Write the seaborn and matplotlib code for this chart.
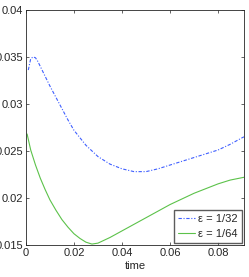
import matplotlib
matplotlib.use("Agg")
import matplotlib.pyplot as plt
from matplotlib.lines import Line2D
import seaborn as sns
import pandas as pd

# valores
t_32 = [0.001, 0.002, 0.003, 0.004, 0.005, 0.0075, 0.01, 0.0125, 0.015, 0.0175, 0.02, 0.025,
        0.03, 0.035, 0.04, 0.045, 0.05, 0.055, 0.06, 0.065, 0.07, 0.075, 0.08, 0.085, 0.09,
        0.0908]
eps_32 = [0.0336, 0.0348, 0.0350, 0.0349, 0.0345, 0.0332, 0.0319, 0.0307, 0.0295, 0.0283,
          0.0272, 0.0256, 0.0244, 0.0236, 0.0231, 0.0228, 0.0228, 0.0231, 0.0235, 0.0239,
          0.0243, 0.0247, 0.0251, 0.0257, 0.0264, 0.0265]
t_64 = [0.0005, 0.002, 0.004, 0.006, 0.008, 0.01, 0.0125, 0.015, 0.0175, 0.02, 0.0225,
        0.025, 0.0275, 0.03, 0.0325, 0.035, 0.04, 0.045, 0.05, 0.055, 0.06, 0.065, 0.07,
        0.075, 0.08, 0.085, 0.0908]
eps_64 = [0.0268, 0.0251, 0.0235, 0.0221, 0.0209, 0.0198, 0.0187, 0.0177, 0.0169, 0.0162,
          0.0157, 0.0153, 0.0151, 0.0152, 0.0155, 0.0158, 0.0165, 0.0172, 0.0179, 0.0186,
          0.0193, 0.0199, 0.0205, 0.0210, 0.0215, 0.0219, 0.0222]
rotulos = ["ε = 1/32", "ε = 1/64"]

df = pd.concat([
    pd.DataFrame({"t": t_32, "v": eps_32, "serie": rotulos[0]}),
    pd.DataFrame({"t": t_64, "v": eps_64, "serie": rotulos[1]}),
])

sns.set_style("ticks")
plt.rcParams["font.family"] = ["Liberation Sans", "DejaVu Sans"]
plt.rcParams["xtick.direction"] = "in"
plt.rcParams["ytick.direction"] = "in"

fig = plt.figure(figsize=(2.49, 2.77), dpi=100)
ax = fig.add_axes([0.104, 0.1155, 0.876, 0.849])

cores = {rotulos[0]: "#3f5fff", rotulos[1]: "#5cc24a"}
estilo_tracejado = (0, (3, 1.5, 1, 1.5))
sns.lineplot(data=df, x="t", y="v", hue="serie", palette=cores, ax=ax,
             estimator=None, sort=False, linewidth=0.8, legend=False)
ax.lines[0].set_linestyle(estilo_tracejado)

ax.set_xlim(0, 0.0908)
ax.set_ylim(0.015, 0.04)
ax.set_xticks([0, 0.02, 0.04, 0.06, 0.08])
ax.set_xticklabels(["0", "0.02", "0.04", "0.06", "0.08"])
ax.set_yticks([0.015, 0.02, 0.025, 0.03, 0.035, 0.04])
ax.set_yticklabels(["0.015", "0.02", "0.025", "0.03", "0.035", "0.04"])
ax.tick_params(labelsize=8, length=2.5, width=0.5, top=True, right=True, pad=2)
for s in ax.spines.values():
    s.set_linewidth(0.6)
ax.set_xlabel("time", fontsize=8, labelpad=2)
ax.set_ylabel("")

handles = [
    Line2D([], [], color=cores[rotulos[0]], lw=0.8, linestyle=estilo_tracejado),
    Line2D([], [], color=cores[rotulos[1]], lw=0.8),
]
ax.legend(handles, rotulos, loc="lower right", fontsize=8, frameon=True,
          fancybox=False, edgecolor="#333333", handlelength=1.5, borderpad=0.35,
          labelspacing=0.45, handletextpad=0.3, borderaxespad=0.2)

fig.savefig("out.png", dpi=100)
